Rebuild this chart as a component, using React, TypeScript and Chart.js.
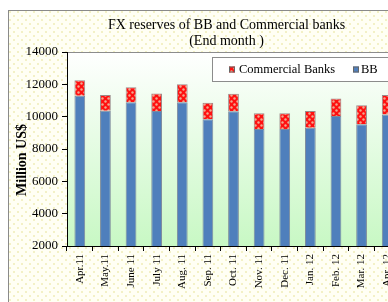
import React, { useEffect, useRef } from "react";
import { Chart, registerables } from "chart.js";

Chart.register(...registerables);

const categories = ["Apr.11", "May.11", "June 11", "July 11", "Aug. 11", "Sep. 11", "Oct. 11", "Nov. 11", "Dec. 11", "Jan. 12", "Feb. 12", "Mar. 12", "Apr. 12"];
const bbValues = [11300, 10370, 10890, 10350, 10890, 9840, 10330, 9240, 9240, 9320, 10040, 9530, 10140];
const cbValues = [950, 970, 930, 1090, 1110, 1020, 1090, 970, 970, 1030, 1090, 1170, 1200];
const yTicks = [2000, 4000, 6000, 8000, 10000, 12000, 14000];
const titleLines = ["FX reserves of BB and Commercial banks", "(End month )"];
const yTitle = "Million US$";

const SERIF = '"Liberation Serif", "Times New Roman", serif';

function makeRedPattern(ctx: CanvasRenderingContext2D): CanvasPattern | string {
  const c = document.createElement("canvas");
  c.width = 6;
  c.height = 6;
  const p = c.getContext("2d");
  if (!p) return "#ff0000";
  p.fillStyle = "#ff1010";
  p.fillRect(0, 0, 6, 6);
  p.fillStyle = "#f0a88f";
  p.beginPath();
  p.arc(1.5, 1.5, 1.2, 0, Math.PI * 2);
  p.fill();
  p.beginPath();
  p.arc(4.5, 4.5, 1.2, 0, Math.PI * 2);
  p.fill();
  return ctx.createPattern(c, "repeat") || "#ff0000";
}

function makeDotPattern(ctx: CanvasRenderingContext2D): CanvasPattern | string {
  const c = document.createElement("canvas");
  c.width = 8;
  c.height = 8;
  const p = c.getContext("2d");
  if (!p) return "#fffff4";
  p.fillStyle = "#fffff4";
  p.fillRect(0, 0, 8, 8);
  p.fillStyle = "#f3f1c6";
  p.fillRect(1, 1, 2, 2);
  p.fillRect(5, 5, 2, 2);
  return ctx.createPattern(c, "repeat") || "#fffff4";
}

export default function App() {
  const ref = useRef<HTMLCanvasElement | null>(null);

  useEffect(() => {
    const canvas = ref.current;
    if (!canvas) return;
    const ctx0 = canvas.getContext("2d");
    if (!ctx0) return;
    const redPattern = makeRedPattern(ctx0);
    const dotPattern = makeDotPattern(ctx0);

    const decor = {
      id: "decor",
      beforeDraw(chart: any) {
        const { ctx, chartArea: a, width, height } = chart;
        ctx.save();
        ctx.fillStyle = dotPattern;
        ctx.fillRect(0, 0, width, height);
        ctx.strokeStyle = "#8a8a8a";
        ctx.lineWidth = 1;
        ctx.strokeRect(0.5, 0.5, width - 1, height - 1);
        const g = ctx.createLinearGradient(0, a.top, 0, a.bottom);
        g.addColorStop(0, "#ffffff");
        g.addColorStop(1, "#c8f8c4");
        ctx.fillStyle = g;
        ctx.fillRect(a.left, a.top, a.right - a.left, a.bottom - a.top);
        ctx.strokeStyle = "#8c8c8c";
        ctx.beginPath();
        ctx.moveTo(a.left, a.top + 0.5);
        ctx.lineTo(a.right, a.top + 0.5);
        ctx.moveTo(a.right - 0.5, a.top);
        ctx.lineTo(a.right - 0.5, a.bottom);
        ctx.stroke();
        ctx.restore();
      },
      afterDraw(chart: any) {
        const { ctx, width } = chart;
        ctx.save();
        ctx.fillStyle = "#000";
        ctx.textAlign = "center";
        ctx.textBaseline = "alphabetic";
        ctx.font = `14px ${SERIF}`;
        ctx.fillText(titleLines[0], width / 2, 19);
        ctx.fillText(titleLines[1], width / 2, 35);

        // y-axis title
        ctx.save();
        ctx.translate(14, 150);
        ctx.rotate(-Math.PI / 2);
        ctx.font = `bold 14px ${SERIF}`;
        ctx.textBaseline = "middle";
        ctx.fillText(yTitle, 0, 0);
        ctx.restore();

        // legend
        const lx = 204, ly = 47, lw = 183, lh = 24;
        ctx.fillStyle = "#ffffff";
        ctx.fillRect(lx, ly, lw, lh);
        ctx.strokeStyle = "#8c8c8c";
        ctx.lineWidth = 1;
        ctx.strokeRect(lx + 0.5, ly + 0.5, lw, lh);
        const ds = chart.data.datasets;
        const items = [
          { label: ds[1].label, color: redPattern, sx: 221, tx: 231 },
          { label: ds[0].label, color: ds[0].backgroundColor, sx: 345, tx: 353 },
        ];
        ctx.font = `12.5px ${SERIF}`;
        ctx.textAlign = "left";
        ctx.textBaseline = "middle";
        const cy = ly + lh / 2 + 0.5;
        items.forEach((it) => {
          ctx.fillStyle = it.color;
          ctx.fillRect(it.sx, cy - 3, 6, 6);
          ctx.strokeStyle = "#666";
          ctx.strokeRect(it.sx + 0.5, cy - 2.5, 5, 5);
          ctx.fillStyle = "#000";
          ctx.fillText(it.label, it.tx, cy);
        });
        ctx.restore();
      },
    };

    const chart = new Chart(canvas, {
      type: "bar",
      data: {
        labels: categories,
        datasets: [
          {
            label: "BB",
            data: bbValues,
            backgroundColor: "#4f7fbc",
            borderColor: "#7d8a9c",
            borderWidth: 1,
            barPercentage: 0.42,
            categoryPercentage: 1,
          },
          {
            label: "Commercial Banks",
            data: cbValues,
            backgroundColor: redPattern as any,
            borderColor: "#9a8a8a",
            borderWidth: 1,
            barPercentage: 0.42,
            categoryPercentage: 1,
          },
        ],
      },
      options: {
        animation: false,
        responsive: false,
        layout: { padding: { top: 42, right: 45, left: 0, bottom: 0 } },
        plugins: {
          legend: { display: false },
          title: { display: false },
          tooltip: { enabled: false },
        },
        scales: {
          x: {
            stacked: true,
            offset: true,
            grid: {
              display: true,
              offset: true,
              drawOnChartArea: false,
              drawTicks: true,
              tickLength: 5,
              color: "#000",
            },
            border: { display: true, color: "#000", width: 1 },
            ticks: {
              autoSkip: false,
              minRotation: 90,
              maxRotation: 90,
              padding: 3,
              color: "#000",
              font: { family: SERIF, size: 11 },
            },
            afterFit: (s: any) => {
              s.height = 64;
            },
          },
          y: {
            stacked: true,
            min: yTicks[0],
            max: yTicks[yTicks.length - 1],
            afterBuildTicks: (s: any) => {
              s.ticks = yTicks.map((v) => ({ value: v }));
            },
            grid: {
              display: true,
              drawOnChartArea: false,
              drawTicks: true,
              tickLength: 5,
              color: "#000",
            },
            border: { display: true, color: "#000", width: 1 },
            ticks: {
              padding: 4,
              color: "#000",
              font: { family: SERIF, size: 13 },
              callback: (v: any) => String(v),
            },
            afterFit: (s: any) => {
              s.width = 59;
            },
          },
        },
      },
      plugins: [decor],
    });

    return () => chart.destroy();
  }, []);

  return (
    <>
      <style>{`html,body{margin:0;padding:0;overflow:hidden;background:#fff;}`}</style>
      <div style={{ position: "absolute", left: 8, top: 10, width: 380, height: 292, overflow: "hidden" }}>
        <canvas ref={ref} width={437} height={300} style={{ display: "block", width: 437, height: 300 }} />
      </div>
    </>
  );
}
